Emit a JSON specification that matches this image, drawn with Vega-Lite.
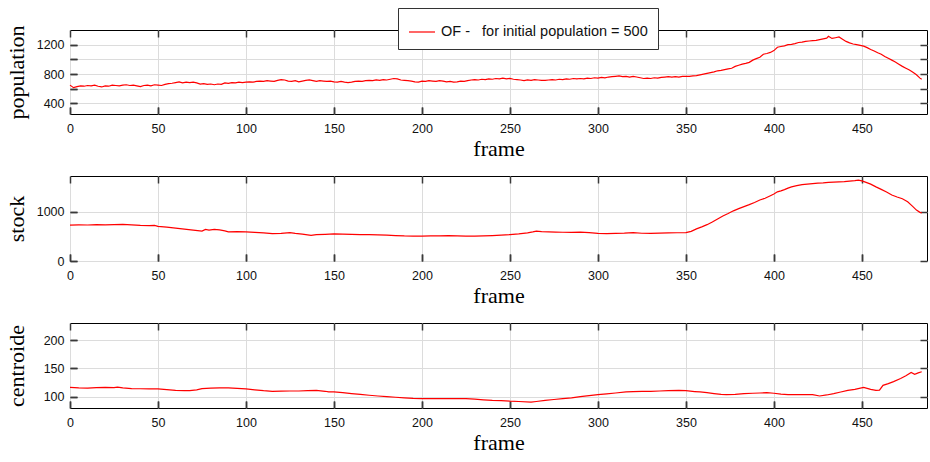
{
  "$schema": "https://vega.github.io/schema/vega-lite/v6.json",
  "padding": {"left": 4, "top": 7, "right": 2, "bottom": 2},
  "background": "white",
  "spacing": 14,
  "config": {
    "view": {"stroke": "#000", "strokeWidth": 1},
    "axis": {
      "domain": false, "grid": true, "gridColor": "#dcdcdc", "gridWidth": 1,
      "ticks": true, "tickColor": "#3a3a3a", "tickSize": -7, "tickWidth": 1.5,
      "labelFont": "Liberation Sans", "labelFontSize": 12.5, "labelColor": "#111",
      "labelOverlap": false, "labelFlush": false, "format": "d",
      "titleFont": "Liberation Serif", "titleFontSize": 22, "titleFontWeight": "normal", "titleColor": "#000"
    },
    "axisX": {"labelPadding": 15, "titlePadding": 4},
    "axisY": {"labelPadding": 13}
  },
  "datasets": {
    "population": [
      {"frame":0,"value":650},{"frame":2,"value":615},{"frame":4,"value":630},{"frame":6,"value":640},{"frame":8,"value":635},{"frame":10,"value":645},{"frame":12,"value":640},{"frame":14,"value":650},{"frame":16,"value":635},{"frame":18,"value":625},{"frame":20,"value":640},{"frame":22,"value":635},{"frame":24,"value":650},{"frame":26,"value":645},{"frame":28,"value":640},{"frame":30,"value":650},{"frame":32,"value":655},{"frame":34,"value":645},{"frame":36,"value":650},{"frame":38,"value":640},{"frame":40,"value":630},{"frame":42,"value":645},{"frame":44,"value":650},{"frame":46,"value":640},{"frame":48,"value":655},{"frame":50,"value":650},{"frame":52,"value":645},{"frame":54,"value":660},{"frame":56,"value":670},{"frame":58,"value":675},{"frame":60,"value":685},{"frame":62,"value":695},{"frame":64,"value":680},{"frame":66,"value":690},{"frame":68,"value":685},{"frame":70,"value":690},{"frame":72,"value":680},{"frame":74,"value":665},{"frame":76,"value":670},{"frame":78,"value":660},{"frame":80,"value":665},{"frame":82,"value":655},{"frame":84,"value":665},{"frame":86,"value":660},{"frame":88,"value":680},{"frame":90,"value":675},{"frame":92,"value":685},{"frame":94,"value":680},{"frame":96,"value":690},{"frame":98,"value":685},{"frame":100,"value":690},{"frame":102,"value":695},{"frame":104,"value":690},{"frame":106,"value":700},{"frame":108,"value":705},{"frame":110,"value":700},{"frame":112,"value":710},{"frame":114,"value":705},{"frame":116,"value":700},{"frame":118,"value":715},{"frame":120,"value":725},{"frame":122,"value":720},{"frame":124,"value":705},{"frame":126,"value":700},{"frame":128,"value":710},{"frame":130,"value":695},{"frame":132,"value":705},{"frame":134,"value":715},{"frame":136,"value":720},{"frame":138,"value":710},{"frame":140,"value":700},{"frame":142,"value":710},{"frame":144,"value":705},{"frame":146,"value":700},{"frame":148,"value":705},{"frame":150,"value":695},{"frame":152,"value":690},{"frame":154,"value":700},{"frame":156,"value":690},{"frame":158,"value":685},{"frame":160,"value":690},{"frame":162,"value":700},{"frame":164,"value":705},{"frame":166,"value":700},{"frame":168,"value":710},{"frame":170,"value":715},{"frame":172,"value":710},{"frame":174,"value":720},{"frame":176,"value":715},{"frame":178,"value":725},{"frame":180,"value":720},{"frame":182,"value":730},{"frame":184,"value":740},{"frame":186,"value":735},{"frame":188,"value":720},{"frame":190,"value":715},{"frame":192,"value":710},{"frame":194,"value":705},{"frame":196,"value":695},{"frame":198,"value":690},{"frame":200,"value":705},{"frame":202,"value":700},{"frame":204,"value":710},{"frame":206,"value":705},{"frame":208,"value":700},{"frame":210,"value":710},{"frame":212,"value":705},{"frame":214,"value":695},{"frame":216,"value":700},{"frame":218,"value":690},{"frame":220,"value":695},{"frame":222,"value":705},{"frame":224,"value":700},{"frame":226,"value":710},{"frame":228,"value":720},{"frame":230,"value":725},{"frame":232,"value":720},{"frame":234,"value":730},{"frame":236,"value":725},{"frame":238,"value":735},{"frame":240,"value":730},{"frame":242,"value":740},{"frame":244,"value":735},{"frame":246,"value":745},{"frame":248,"value":735},{"frame":250,"value":742},{"frame":252,"value":730},{"frame":254,"value":725},{"frame":256,"value":720},{"frame":258,"value":712},{"frame":260,"value":720},{"frame":262,"value":715},{"frame":264,"value":725},{"frame":266,"value":720},{"frame":268,"value":715},{"frame":270,"value":715},{"frame":272,"value":720},{"frame":274,"value":725},{"frame":276,"value":720},{"frame":278,"value":730},{"frame":280,"value":725},{"frame":282,"value":735},{"frame":284,"value":730},{"frame":286,"value":740},{"frame":288,"value":735},{"frame":290,"value":740},{"frame":292,"value":735},{"frame":294,"value":745},{"frame":296,"value":740},{"frame":298,"value":750},{"frame":300,"value":745},{"frame":302,"value":755},{"frame":304,"value":750},{"frame":306,"value":760},{"frame":308,"value":765},{"frame":310,"value":770},{"frame":312,"value":775},{"frame":314,"value":765},{"frame":316,"value":770},{"frame":318,"value":760},{"frame":320,"value":770},{"frame":322,"value":760},{"frame":324,"value":750},{"frame":326,"value":740},{"frame":328,"value":745},{"frame":330,"value":740},{"frame":332,"value":750},{"frame":334,"value":745},{"frame":336,"value":755},{"frame":338,"value":760},{"frame":340,"value":765},{"frame":342,"value":760},{"frame":344,"value":765},{"frame":346,"value":760},{"frame":348,"value":770},{"frame":350,"value":768},{"frame":352,"value":770},{"frame":354,"value":775},{"frame":356,"value":780},{"frame":358,"value":790},{"frame":360,"value":800},{"frame":362,"value":810},{"frame":364,"value":820},{"frame":366,"value":830},{"frame":368,"value":845},{"frame":370,"value":850},{"frame":372,"value":860},{"frame":374,"value":870},{"frame":376,"value":880},{"frame":378,"value":905},{"frame":380,"value":920},{"frame":382,"value":935},{"frame":384,"value":945},{"frame":386,"value":960},{"frame":388,"value":990},{"frame":390,"value":1010},{"frame":392,"value":1030},{"frame":394,"value":1070},{"frame":396,"value":1080},{"frame":398,"value":1095},{"frame":400,"value":1120},{"frame":402,"value":1165},{"frame":404,"value":1175},{"frame":406,"value":1185},{"frame":408,"value":1200},{"frame":410,"value":1205},{"frame":412,"value":1215},{"frame":414,"value":1230},{"frame":416,"value":1235},{"frame":418,"value":1245},{"frame":420,"value":1250},{"frame":422,"value":1255},{"frame":424,"value":1260},{"frame":426,"value":1270},{"frame":428,"value":1280},{"frame":430,"value":1290},{"frame":431,"value":1315},{"frame":433,"value":1285},{"frame":435,"value":1295},{"frame":437,"value":1305},{"frame":439,"value":1275},{"frame":441,"value":1245},{"frame":443,"value":1225},{"frame":445,"value":1210},{"frame":447,"value":1200},{"frame":449,"value":1190},{"frame":451,"value":1180},{"frame":453,"value":1160},{"frame":455,"value":1135},{"frame":457,"value":1115},{"frame":459,"value":1090},{"frame":461,"value":1070},{"frame":463,"value":1040},{"frame":465,"value":1015},{"frame":467,"value":990},{"frame":469,"value":965},{"frame":471,"value":935},{"frame":473,"value":905},{"frame":475,"value":880},{"frame":477,"value":855},{"frame":479,"value":825},{"frame":481,"value":790},{"frame":483,"value":745},{"frame":484,"value":730}
    ],
    "stock": [
      {"frame":0,"value":725},{"frame":5,"value":730},{"frame":10,"value":728},{"frame":15,"value":735},{"frame":20,"value":730},{"frame":25,"value":738},{"frame":30,"value":740},{"frame":35,"value":730},{"frame":40,"value":720},{"frame":45,"value":715},{"frame":48,"value":720},{"frame":50,"value":700},{"frame":55,"value":685},{"frame":60,"value":665},{"frame":65,"value":645},{"frame":70,"value":625},{"frame":75,"value":605},{"frame":77,"value":640},{"frame":79,"value":625},{"frame":82,"value":640},{"frame":85,"value":628},{"frame":88,"value":610},{"frame":90,"value":590},{"frame":95,"value":595},{"frame":100,"value":588},{"frame":105,"value":580},{"frame":110,"value":570},{"frame":115,"value":555},{"frame":120,"value":560},{"frame":125,"value":575},{"frame":128,"value":560},{"frame":132,"value":545},{"frame":137,"value":520},{"frame":140,"value":535},{"frame":145,"value":540},{"frame":150,"value":548},{"frame":155,"value":545},{"frame":160,"value":540},{"frame":165,"value":535},{"frame":170,"value":534},{"frame":175,"value":530},{"frame":180,"value":525},{"frame":185,"value":515},{"frame":190,"value":508},{"frame":195,"value":505},{"frame":200,"value":505},{"frame":205,"value":508},{"frame":210,"value":510},{"frame":215,"value":512},{"frame":220,"value":508},{"frame":225,"value":505},{"frame":230,"value":503},{"frame":235,"value":508},{"frame":240,"value":515},{"frame":245,"value":525},{"frame":250,"value":534},{"frame":255,"value":550},{"frame":260,"value":570},{"frame":263,"value":590},{"frame":265,"value":605},{"frame":268,"value":595},{"frame":272,"value":590},{"frame":276,"value":585},{"frame":280,"value":582},{"frame":285,"value":580},{"frame":290,"value":585},{"frame":295,"value":575},{"frame":300,"value":561},{"frame":305,"value":555},{"frame":310,"value":560},{"frame":315,"value":565},{"frame":320,"value":575},{"frame":325,"value":562},{"frame":330,"value":561},{"frame":335,"value":565},{"frame":340,"value":570},{"frame":345,"value":572},{"frame":350,"value":575},{"frame":353,"value":600},{"frame":356,"value":650},{"frame":359,"value":690},{"frame":362,"value":735},{"frame":365,"value":790},{"frame":368,"value":850},{"frame":371,"value":910},{"frame":374,"value":960},{"frame":377,"value":1015},{"frame":380,"value":1060},{"frame":383,"value":1100},{"frame":386,"value":1140},{"frame":389,"value":1185},{"frame":392,"value":1235},{"frame":395,"value":1270},{"frame":398,"value":1320},{"frame":400,"value":1355},{"frame":402,"value":1400},{"frame":404,"value":1420},{"frame":406,"value":1445},{"frame":408,"value":1475},{"frame":410,"value":1500},{"frame":413,"value":1525},{"frame":416,"value":1545},{"frame":419,"value":1556},{"frame":422,"value":1565},{"frame":425,"value":1575},{"frame":428,"value":1580},{"frame":431,"value":1590},{"frame":434,"value":1595},{"frame":437,"value":1600},{"frame":440,"value":1605},{"frame":443,"value":1615},{"frame":446,"value":1625},{"frame":448,"value":1637},{"frame":450,"value":1620},{"frame":452,"value":1595},{"frame":455,"value":1555},{"frame":458,"value":1500},{"frame":461,"value":1450},{"frame":464,"value":1395},{"frame":467,"value":1335},{"frame":470,"value":1295},{"frame":473,"value":1260},{"frame":476,"value":1200},{"frame":479,"value":1100},{"frame":481,"value":1030},{"frame":483,"value":985},{"frame":484,"value":975}
    ],
    "centroide": [
      {"frame":0,"value":116.5},{"frame":5,"value":115.5},{"frame":10,"value":115},{"frame":15,"value":116},{"frame":20,"value":116.5},{"frame":25,"value":116},{"frame":27,"value":117},{"frame":30,"value":115.5},{"frame":35,"value":114.2},{"frame":40,"value":114},{"frame":45,"value":113.6},{"frame":50,"value":113.6},{"frame":55,"value":112.5},{"frame":60,"value":111.2},{"frame":65,"value":110.5},{"frame":68,"value":110.6},{"frame":72,"value":112},{"frame":75,"value":114.2},{"frame":80,"value":115},{"frame":85,"value":115.4},{"frame":90,"value":115.4},{"frame":95,"value":114.5},{"frame":100,"value":113.6},{"frame":105,"value":112},{"frame":110,"value":110.5},{"frame":115,"value":109.5},{"frame":120,"value":109.8},{"frame":125,"value":110},{"frame":130,"value":110},{"frame":135,"value":110.5},{"frame":140,"value":111.2},{"frame":145,"value":109.5},{"frame":147,"value":108.3},{"frame":150,"value":108.5},{"frame":155,"value":107.1},{"frame":160,"value":105.5},{"frame":165,"value":104},{"frame":170,"value":102.5},{"frame":175,"value":101.2},{"frame":180,"value":100},{"frame":185,"value":99},{"frame":190,"value":98},{"frame":195,"value":97},{"frame":200,"value":96.4},{"frame":205,"value":96.4},{"frame":210,"value":96.5},{"frame":215,"value":96.6},{"frame":220,"value":96.4},{"frame":225,"value":96.4},{"frame":230,"value":95.5},{"frame":235,"value":94.5},{"frame":240,"value":93.5},{"frame":245,"value":92.9},{"frame":250,"value":92},{"frame":255,"value":91.5},{"frame":262,"value":90.5},{"frame":265,"value":91.5},{"frame":270,"value":93.5},{"frame":275,"value":95},{"frame":280,"value":96.4},{"frame":285,"value":98},{"frame":290,"value":100},{"frame":295,"value":102},{"frame":300,"value":103.6},{"frame":305,"value":105},{"frame":310,"value":106.5},{"frame":316,"value":108.3},{"frame":320,"value":109},{"frame":325,"value":109.5},{"frame":330,"value":109.5},{"frame":335,"value":110},{"frame":340,"value":110.5},{"frame":346,"value":111.2},{"frame":350,"value":110.5},{"frame":355,"value":109},{"frame":358,"value":108.3},{"frame":362,"value":107},{"frame":366,"value":105.5},{"frame":370,"value":104},{"frame":373,"value":103.6},{"frame":378,"value":104},{"frame":383,"value":105.3},{"frame":388,"value":106},{"frame":392,"value":106.5},{"frame":396,"value":107.1},{"frame":400,"value":106},{"frame":404,"value":104.5},{"frame":408,"value":103.6},{"frame":413,"value":103.5},{"frame":418,"value":103.6},{"frame":422,"value":103.6},{"frame":426,"value":101.2},{"frame":430,"value":103},{"frame":434,"value":105.5},{"frame":438,"value":108.3},{"frame":442,"value":111},{"frame":446,"value":113},{"frame":451,"value":116.5},{"frame":455,"value":113},{"frame":458,"value":111.2},{"frame":460,"value":111.5},{"frame":462,"value":120},{"frame":465,"value":123},{"frame":468,"value":126.5},{"frame":472,"value":132},{"frame":475,"value":137},{"frame":478,"value":142.6},{"frame":480,"value":139.5},{"frame":482,"value":142},{"frame":484,"value":144}
    ]
  },
  "resolve": {"scale": {"color": "independent"}, "legend": {"color": "independent"}},
  "vconcat": [
    {
      "width": 857, "height": 84,
      "data": {"name": "population"},
      "resolve": {"axis": {"x": "independent", "y": "independent"}},
      "layer": [
        {
          "mark": {"type": "line", "strokeWidth": 1.2},
          "encoding": {
            "x": {"field": "frame", "type": "quantitative", "scale": {"domain": [0, 487], "nice": false}, "axis": {"title": "frame", "values": [0,50,100,150,200,250,300,350,400,450]}},
            "y": {"field": "value", "type": "quantitative", "scale": {"domain": [257, 1400], "nice": false, "zero": false}, "axis": {"title": "population", "titleX": -42, "values": [400,600,800,1000,1200], "labelExpr": "datum.value % 400 == 0 ? datum.label : ''"}},
            "color": {"datum": "OF - \u00a0 for initial population = 500", "type": "nominal", "scale": {"range": ["#ff0000"]},
              "legend": {"title": null, "orient": "none", "legendX": 328, "legendY": -22, "padding": 10, "fillColor": "white", "strokeColor": "#333", "symbolType": "stroke", "symbolSize": 676, "symbolStrokeWidth": 1.2, "labelFont": "Liberation Sans", "labelFontSize": 14.5, "labelColor": "#111", "labelOffset": 5, "labelLimit": 400}}
          }
        },
        {
          "mark": {"type": "line", "strokeOpacity": 0},
          "encoding": {
            "x": {"field": "frame", "type": "quantitative", "axis": {"orient": "top", "labels": false, "title": null, "grid": false, "values": [0,50,100,150,200,250,300,350,400,450]}},
            "y": {"field": "value", "type": "quantitative", "axis": {"orient": "right", "labels": false, "title": null, "grid": false, "values": [400,600,800,1000,1200]}}
          }
        },
        {
          "mark": {"type": "line", "strokeOpacity": 0},
          "encoding": {
            "x": {"field": "frame", "type": "quantitative", "axis": {"orient": "bottom", "labels": false, "title": null, "grid": false, "values": [0,50,100,150,200,250,300,350,400,450]}},
            "y": {"field": "value", "type": "quantitative", "axis": {"orient": "left", "labels": false, "title": null, "grid": false, "values": [400,600,800,1000,1200]}}
          }
        }
      ]
    },
    {
      "width": 857, "height": 85,
      "data": {"name": "stock"},
      "resolve": {"axis": {"x": "independent", "y": "independent"}},
      "layer": [
        {
          "mark": {"type": "line", "strokeWidth": 1.2, "color": "#ff0000"},
          "encoding": {
            "x": {"field": "frame", "type": "quantitative", "scale": {"domain": [0, 487], "nice": false}, "axis": {"title": "frame", "values": [0,50,100,150,200,250,300,350,400,450]}},
            "y": {"field": "value", "type": "quantitative", "scale": {"domain": [0, 1720], "nice": false}, "axis": {"title": "stock", "titleX": -42, "values": [0, 1000]}}
          }
        },
        {
          "mark": {"type": "line", "strokeOpacity": 0},
          "encoding": {
            "x": {"field": "frame", "type": "quantitative", "axis": {"orient": "top", "labels": false, "title": null, "grid": false, "values": [0,50,100,150,200,250,300,350,400,450]}},
            "y": {"field": "value", "type": "quantitative", "axis": {"orient": "right", "labels": false, "title": null, "grid": false, "values": [0, 1000]}}
          }
        },
        {
          "mark": {"type": "line", "strokeOpacity": 0},
          "encoding": {
            "x": {"field": "frame", "type": "quantitative", "axis": {"orient": "bottom", "labels": false, "title": null, "grid": false, "values": [0,50,100,150,200,250,300,350,400,450]}},
            "y": {"field": "value", "type": "quantitative", "axis": {"orient": "left", "labels": false, "title": null, "grid": false, "values": [0, 1000]}}
          }
        }
      ]
    },
    {
      "width": 857, "height": 85,
      "data": {"name": "centroide"},
      "resolve": {"axis": {"x": "independent", "y": "independent"}},
      "layer": [
        {
          "mark": {"type": "line", "strokeWidth": 1.2, "color": "#ff0000"},
          "encoding": {
            "x": {"field": "frame", "type": "quantitative", "scale": {"domain": [0, 487], "nice": false}, "axis": {"title": "frame", "values": [0,50,100,150,200,250,300,350,400,450]}},
            "y": {"field": "value", "type": "quantitative", "scale": {"domain": [80, 230], "nice": false, "zero": false}, "axis": {"title": "centroide", "titleX": -42, "values": [100, 150, 200]}}
          }
        },
        {
          "mark": {"type": "line", "strokeOpacity": 0},
          "encoding": {
            "x": {"field": "frame", "type": "quantitative", "axis": {"orient": "top", "labels": false, "title": null, "grid": false, "values": [0,50,100,150,200,250,300,350,400,450]}},
            "y": {"field": "value", "type": "quantitative", "axis": {"orient": "right", "labels": false, "title": null, "grid": false, "values": [100, 150, 200]}}
          }
        },
        {
          "mark": {"type": "line", "strokeOpacity": 0},
          "encoding": {
            "x": {"field": "frame", "type": "quantitative", "axis": {"orient": "bottom", "labels": false, "title": null, "grid": false, "values": [0,50,100,150,200,250,300,350,400,450]}},
            "y": {"field": "value", "type": "quantitative", "axis": {"orient": "left", "labels": false, "title": null, "grid": false, "values": [100, 150, 200]}}
          }
        }
      ]
    }
  ]
}
